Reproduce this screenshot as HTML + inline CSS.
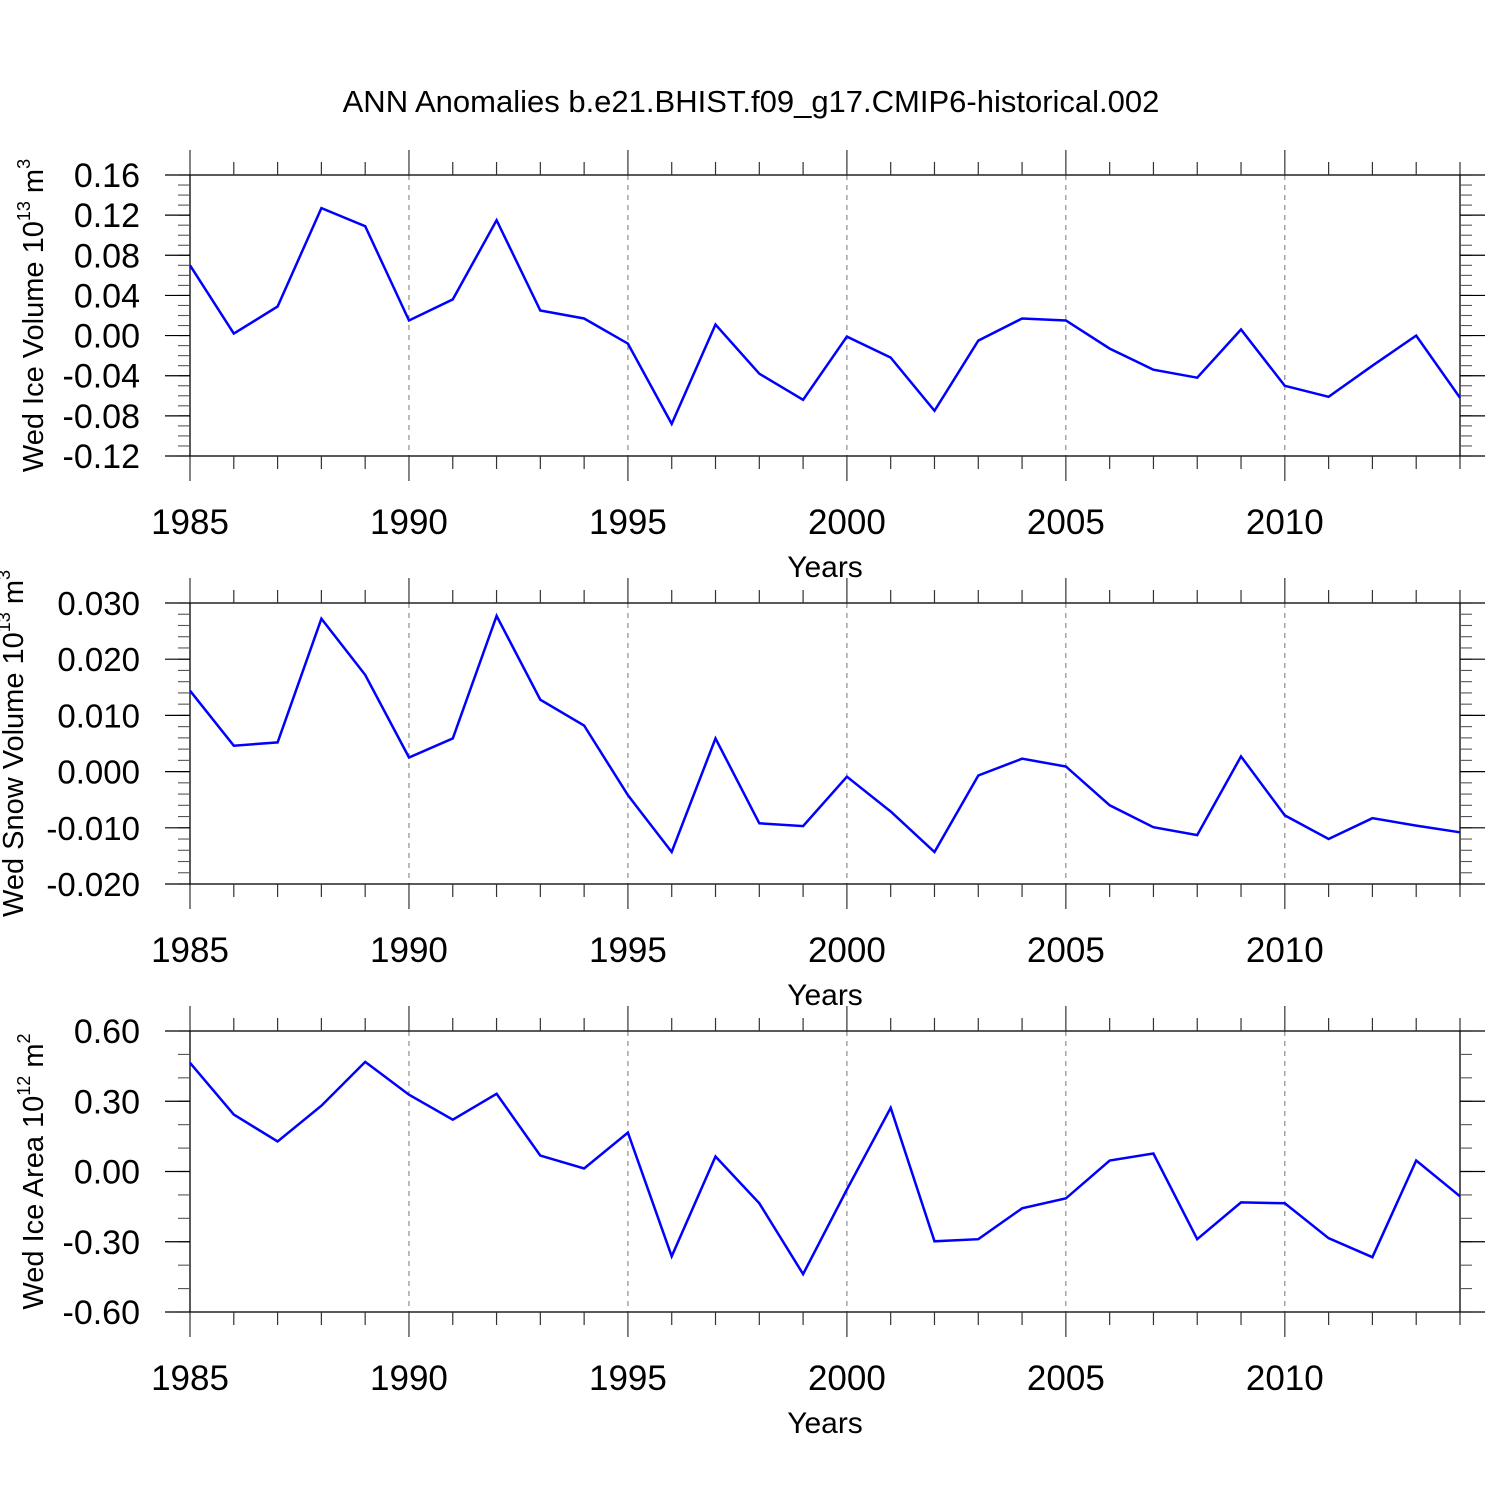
<!DOCTYPE html>
<html><head><meta charset="utf-8"><style>
html,body{margin:0;padding:0;background:#fff}
svg{display:block;font-family:"Liberation Sans",sans-serif}
</style></head><body>
<svg id="chart" width="1500" height="1500" viewBox="0 0 1500 1500">
<rect width="1500" height="1500" fill="#fff"/>
<text x="751" y="112" font-size="31" text-anchor="middle">ANN Anomalies b.e21.BHIST.f09_g17.CMIP6-historical.002</text>
</svg>
<script>
const years = [1985,1986,1987,1988,1989,1990,1991,1992,1993,1994,1995,1996,1997,1998,1999,2000,2001,2002,2003,2004,2005,2006,2007,2008,2009,2010,2011,2012,2013,2014];
const iceVolume = [0.070,0.002,0.029,0.127,0.109,0.015,0.036,0.115,0.025,0.017,-0.008,-0.088,0.011,-0.038,-0.064,-0.001,-0.022,-0.075,-0.005,0.017,0.015,-0.013,-0.034,-0.042,0.006,-0.050,-0.061,-0.030,0.000,-0.062];
const snowVolume = [0.0144,0.0046,0.0052,0.0272,0.0172,0.0025,0.0059,0.0277,0.0128,0.0082,-0.0042,-0.0143,0.0059,-0.0092,-0.0097,-0.0009,-0.0071,-0.0143,-0.0007,0.0023,0.0009,-0.0060,-0.0099,-0.0113,0.0027,-0.0078,-0.0120,-0.0083,-0.0096,-0.0108];
const iceArea = [0.464,0.243,0.128,0.281,0.468,0.328,0.221,0.332,0.068,0.013,0.166,-0.362,0.064,-0.136,-0.438,-0.077,0.272,-0.298,-0.289,-0.157,-0.115,0.047,0.077,-0.289,-0.132,-0.136,-0.285,-0.366,0.047,-0.106];
const xTickYears = [1985,1990,1995,2000,2005,2010];
const ticks1 = [0.16,0.12,0.08,0.04,0.00,-0.04,-0.08,-0.12];
const ticks2 = [0.03,0.02,0.01,0.00,-0.01,-0.02];
const ticks3 = [0.6,0.3,0.0,-0.3,-0.6];

const NS='http://www.w3.org/2000/svg';
const svg=document.getElementById('chart');
function mk(tag,attrs,parent){const e=document.createElementNS(NS,tag);for(const k in attrs)e.setAttribute(k,attrs[k]);(parent||svg).appendChild(e);return e;}
const X0=190,X1=1460,YMIN=1985,YMAX=2014;
const xs=v=>X0+(v-YMIN)/(YMAX-YMIN)*(X1-X0);

function panel(opt){
  const g=mk('g',{});
  
  
  const top=opt.top,bot=opt.top+281;
  const ys=v=>top+(opt.max-v)/(opt.max-opt.min)*(bot-top);
  xTickYears.slice(1).forEach(y=>{
    const l=mk('line',{x1:xs(y),x2:xs(y),y1:top,y2:bot,stroke:'#777','stroke-width':1,'stroke-dasharray':'5,5'},g);
    
    
  });
  const fr=mk('rect',{x:X0,y:top,width:X1-X0,height:bot-top,fill:'none',stroke:'#000','stroke-width':1.3},g);
  
  
  for(let y=YMIN;y<=YMAX;y++){
    const major=(y%5===0);const L=major?25:13;const x=xs(y);
    mk('line',{x1:x,x2:x,y1:top-L,y2:top,stroke:'#333','stroke-width':1.2},g);
    mk('line',{x1:x,x2:x,y1:bot,y2:bot+L,stroke:'#333','stroke-width':1.2},g);
  }
  xTickYears.forEach(y=>{
    const t=mk('text',{x:xs(y),y:bot+78,'font-size':35,'text-anchor':'middle'},g);
    t.textContent=y;
    
    
  });
  const xt=mk('text',{x:825,y:bot+121,'font-size':30,'text-anchor':'middle'},g);
  xt.textContent='Years';
  
  
  const nMin=Math.round((opt.max-opt.min)/opt.minor);
  for(let i=0;i<=nMin;i++){
    const v=opt.max-i*opt.minor;const y=ys(v);
    mk('line',{x1:X0-12,x2:X0,y1:y,y2:y,stroke:'#555','stroke-width':1.1},g);
    mk('line',{x1:X1,x2:X1+12,y1:y,y2:y,stroke:'#555','stroke-width':1.1},g);
  }
  opt.ticks.forEach(v=>{
    const y=ys(v);
    mk('line',{x1:X0-25,x2:X0,y1:y,y2:y,stroke:'#000','stroke-width':1.2},g);
    mk('line',{x1:X1,x2:X1+25,y1:y,y2:y,stroke:'#000','stroke-width':1.2},g);
    const t=mk('text',{x:140,y:y+12,'font-size':opt.tfs,'text-anchor':'end'},g);
    let s=v.toFixed(opt.dec); if(Math.abs(v)<1e-9) s=(0).toFixed(opt.dec);
    t.textContent=s;
    
    
  });
  const cy=(top+bot)/2;
  const yt=mk('text',{x:0,y:0,'font-size':29,'text-anchor':'middle',transform:`translate(${opt.tx},${cy}) rotate(-90)`},g);
  
  
  yt.innerHTML=opt.label+' 10<tspan font-size="18" dy="-13">'+opt.exp+'</tspan><tspan dy="13"> m</tspan><tspan font-size="18" dy="-13">'+opt.unit+'</tspan>';
  const pts=opt.data.map((v,i)=>xs(years[i]).toFixed(1)+','+ys(v).toFixed(1)).join(' ');
  const pl=mk('polyline',{points:pts,fill:'none',stroke:'#0000ff','stroke-width':2.5,'stroke-linejoin':'miter'},g);
  
  
}
panel({name:'ice-volume-panel',top:175,max:0.16,min:-0.12,minor:0.01,ticks:ticks1,dec:2,data:iceVolume,label:'Wed Ice Volume',exp:'13',unit:'3',tx:43,tfs:34});
panel({name:'snow-volume-panel',top:603,max:0.03,min:-0.02,minor:0.002,ticks:ticks2,dec:3,data:snowVolume,label:'Wed Snow Volume',exp:'13',unit:'3',tx:23,tfs:33});
panel({name:'ice-area-panel',top:1031,max:0.6,min:-0.6,minor:0.1,ticks:ticks3,dec:2,data:iceArea,label:'Wed Ice Area',exp:'12',unit:'2',tx:43,tfs:34});
</script>
</body></html>
